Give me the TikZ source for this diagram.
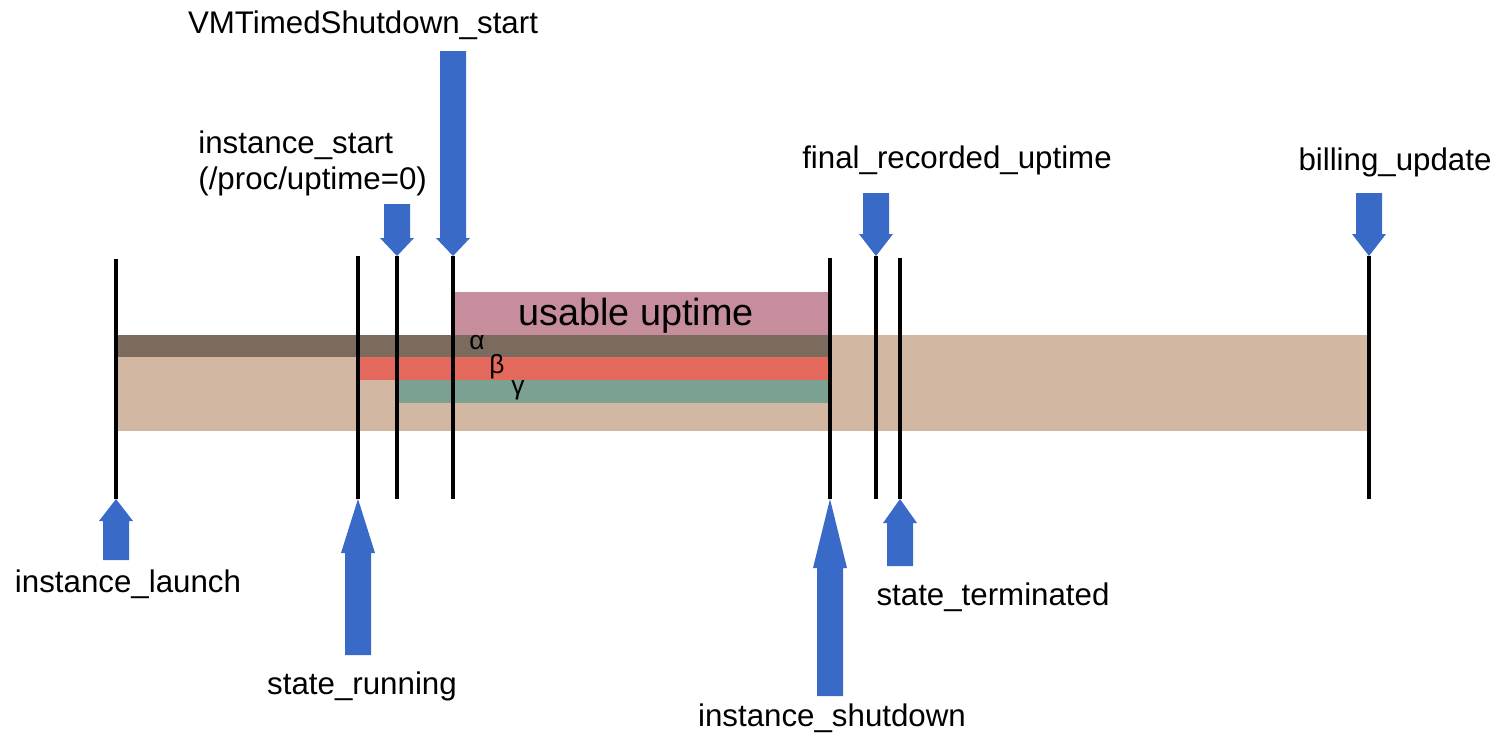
\documentclass[tikz,border=0pt]{standalone}
\usepackage{fontspec}
\setmainfont{Liberation Sans}
\usepackage{tikz}
\usetikzlibrary{positioning}

\definecolor{bandtan}{RGB}{210,184,162}
\definecolor{alphabrown}{RGB}{123,107,95}
\definecolor{betared}{RGB}{228,105,93}
\definecolor{gammagreen}{RGB}{123,161,147}
\definecolor{usablepink}{RGB}{198,142,156}
\definecolor{markblue}{RGB}{58,106,200}

\tikzset{
    eventline/.style={draw=black, line width=2pt},
    marker/.style={fill=markblue},
    evlabel/.style={inner sep=0pt, anchor=base, font=\fontsize{17.8}{21}\selectfont},
    greek/.style={inner sep=0pt, anchor=center, font=\fontsize{15}{18}\selectfont}
}

\begin{document}
\begin{tikzpicture}[x=0.02cm, y=-0.02cm]
    \useasboundingbox (0,0) rectangle (1494,735);

    % Event lines (top / bottom ends)
    \coordinate (launchTop) at (116,259);   \coordinate (launchBot) at (116,499);
    \coordinate (runTop) at (358,256);      \coordinate (runBot) at (358,499);
    \coordinate (startTop) at (397,256);    \coordinate (startBot) at (397,499);
    \coordinate (vmtsTop) at (453,256);     \coordinate (vmtsBot) at (453,499);
    \coordinate (shutTop) at (830,258);     \coordinate (shutBot) at (830,499);
    \coordinate (finalTop) at (876,256);    \coordinate (finalBot) at (876,499);
    \coordinate (termTop) at (900,258);     \coordinate (termBot) at (900,499);
    \coordinate (billTop) at (1369,256);    \coordinate (billBot) at (1369,499);

    % Bands
    \fill[bandtan] (116,335) rectangle (1369,431);
    \fill[alphabrown] (116,335) rectangle (830,357);
    \fill[betared] (358,357) rectangle (830,380);
    \fill[gammagreen] (397,380) rectangle (830,403);
    \fill[usablepink] (453,292) rectangle (830,335);
    \node (usable) [inner sep=0pt, anchor=base, font=\fontsize{21.5}{25}\selectfont] at (636,325) {usable uptime};
    \node (alpha) [greek] at (477,343) {α};
    \node (beta) [greek] at (497,367) {β};
    \node (gamma) [greek] at (518,390) {γ};

    % Lines
    \foreach \ev in {launch, run, start, vmts, shut, final, term, bill}
        \draw[eventline] (\ev Top) -- (\ev Bot);

    % Down markers
    \fill[marker] (startTop) -- ++(-17,-18) -- ++(4,0) -- ++(0,-34) -- ++(26,0) -- ++(0,34) -- ++(4,0) -- cycle;
    \fill[marker] (vmtsTop) -- ++(-17,-18) -- ++(4,0) -- ++(0,-187) -- ++(26,0) -- ++(0,187) -- ++(4,0) -- cycle;
    \fill[marker] (finalTop) -- ++(-17,-22) -- ++(4,0) -- ++(0,-41) -- ++(26,0) -- ++(0,41) -- ++(4,0) -- cycle;
    \fill[marker] (billTop) -- ++(-17,-22) -- ++(4,0) -- ++(0,-41) -- ++(26,0) -- ++(0,41) -- ++(4,0) -- cycle;

    % Up markers
    \fill[marker] (launchBot) -- ++(-17,22) -- ++(4,0) -- ++(0,39) -- ++(26,0) -- ++(0,-39) -- ++(4,0) -- cycle;
    \fill[marker] (runBot) -- ++(-17,54) -- ++(4,0) -- ++(0,102) -- ++(26,0) -- ++(0,-102) -- ++(4,0) -- cycle;
    \fill[marker] (shutBot) -- ++(-17,69) -- ++(4,0) -- ++(0,128) -- ++(26,0) -- ++(0,-128) -- ++(4,0) -- cycle;
    \fill[marker] (termBot) -- ++(-17,24) -- ++(4,0) -- ++(0,43) -- ++(26,0) -- ++(0,-43) -- ++(4,0) -- cycle;

    % Labels
    \node (vmtsLabel) [evlabel] at (363,33) {VMTimedShutdown\_start};
    \node (startLabel) [evlabel, anchor=base west] at (198,153) {instance\_start};
    \node (startNote) [evlabel, anchor=base west] at (198,189) {(/proc/uptime=0)};
    \node (finalLabel) [evlabel] at (957,168) {final\_recorded\_uptime};
    \node (billLabel) [evlabel] at (1395,170) {billing\_update};
    \node (launchLabel) [evlabel] at (128,592) {instance\_launch};
    \node (runLabel) [evlabel] at (362,694) {state\_running};
    \node (termLabel) [evlabel] at (993,605) {state\_terminated};
    \node (shutLabel) [evlabel] at (832,726) {instance\_shutdown};
\end{tikzpicture}
\end{document}
